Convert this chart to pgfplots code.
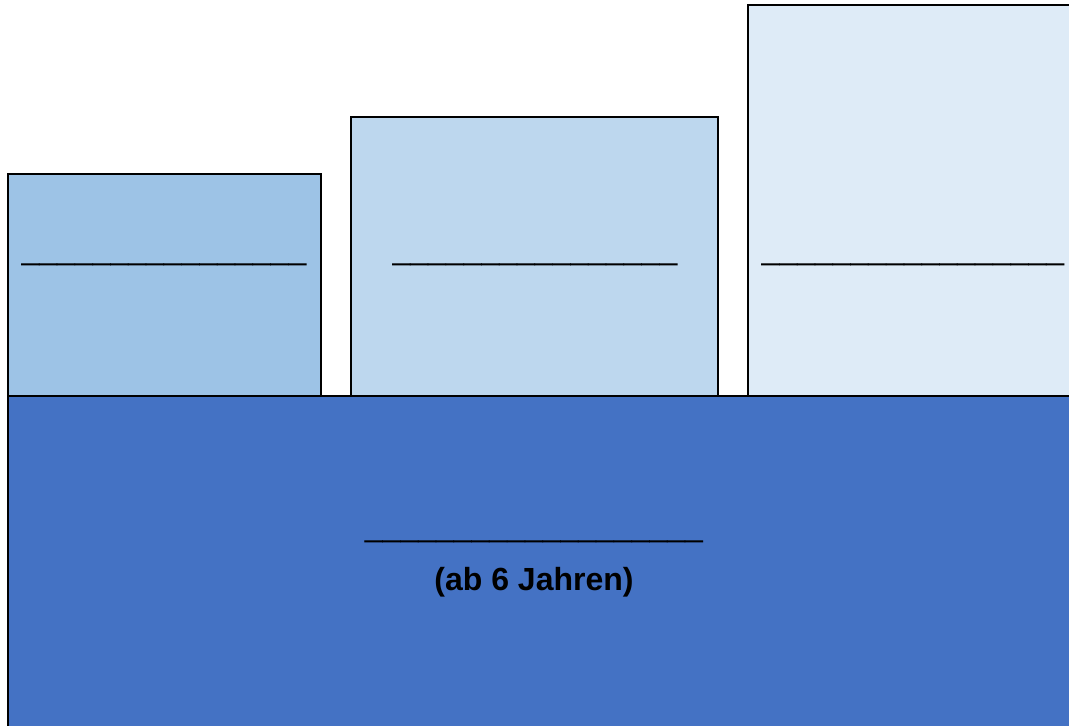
\documentclass[border=0pt]{standalone}
\usepackage{fontspec}
\setmainfont{Liberation Sans}
\usepackage{pgfplots}
\pgfplotsset{compat=1.18}
\definecolor{base}{HTML}{4472C4}
\definecolor{boxa}{HTML}{9DC3E6}
\definecolor{boxb}{HTML}{BDD7EE}
\definecolor{boxc}{HTML}{DEEBF7}
\begin{document}
\begin{tikzpicture}
\begin{axis}[
hide axis,
scale only axis,
width=534.5pt,
height=363pt,
xmin=0, xmax=1069,
ymin=0, ymax=726,
clip=true,
every axis plot/.append style={draw=black, line width=1pt},
nodes={font=\fontsize{16}{19}\selectfont, inner sep=0pt},
]
% upper boxes (pixel units, y up)
\addplot[fill=boxa] coordinates {(8,330) (321,330) (321,552) (8,552)} -- cycle;
\addplot[fill=boxb] coordinates {(351,330) (718,330) (718,609) (351,609)} -- cycle;
\addplot[fill=boxc] coordinates {(748,330) (1085,330) (1085,721) (748,721)} -- cycle;
% base block
\addplot[fill=base] coordinates {(8,-20) (1085,-20) (1085,330) (8,330)} -- cycle;

\node[anchor=base] at (axis cs:164,466) {\_\_\_\_\_\_\_\_\_\_\_\_\_\_\_\_};
\node[anchor=base] at (axis cs:535,466) {\_\_\_\_\_\_\_\_\_\_\_\_\_\_\_\_};
\node[anchor=base] at (axis cs:913,466) {\_\_\_\_\_\_\_\_\_\_\_\_\_\_\_\_\_};
\node[anchor=base] at (axis cs:534,189) {\_\_\_\_\_\_\_\_\_\_\_\_\_\_\_\_\_\_\_};
\node[anchor=base, font=\fontsize{16}{19}\selectfont\bfseries] at (axis cs:534,135) {(ab 6 Jahren)};
\end{axis}
\pgfresetboundingbox
\path (current axis.south west) rectangle (current axis.north east);
\end{tikzpicture}
\end{document}
